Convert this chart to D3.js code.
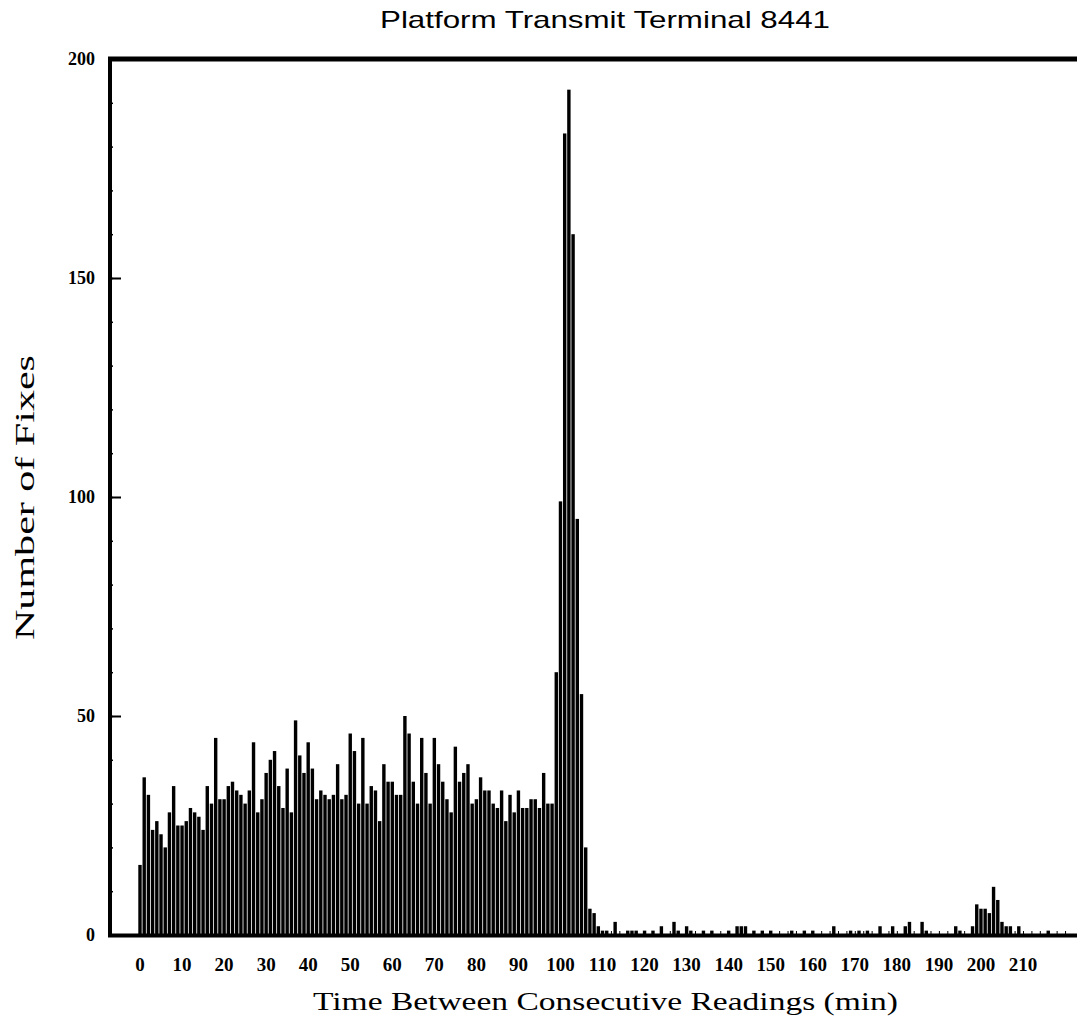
<!DOCTYPE html>
<html>
<head>
<meta charset="utf-8">
<script src="https://cdn.jsdelivr.net/npm/d3@7"></script>
<style>
  html, body { margin: 0; padding: 0; background: #fff; }
  svg { display: block; }
</style>
</head>
<body>
<svg id="chart" width="1077" height="1029"></svg>
<script>
// Number of position fixes per interval between consecutive readings (1-minute bins)
const fixesLowRange = [
  16, 36, 32, 24, 26, 23, 20, 28, 34, 25, 25, 26, 29, 28, 27, 24, 34, 30, 45, 31,
  31, 34, 35, 33, 32, 30, 33, 44, 28, 31, 37, 40, 42, 34, 29, 38, 28, 49, 41, 37,
  44, 38, 31, 33, 32, 31, 32, 39, 31, 32, 46, 42, 30, 45, 30, 34, 33, 26, 39, 35,
  35, 32, 32, 50, 46, 35, 30, 45, 37, 30, 45, 39, 35, 31, 28, 43, 35, 37, 39, 30,
  31, 36, 33, 33, 30, 29, 33, 26, 32, 28, 33, 29, 29, 31, 31, 29, 37, 30, 30
];                                   // minutes 0 – 98
const fixesPeak = [60, 99, 183, 193, 160, 95, 55, 20, 6, 5, 2, 1, 1, 0];   // minutes 99 – 112
const fixesTail = [
  3, 0, 0, 1, 1, 1, 0, 1, 0, 1, 0, 2, 0, 0, 3, 1, 0, 2, 1, 0,   // 113 – 132
  0, 1, 0, 1, 0, 0, 0, 1, 0, 2, 2, 2, 0, 1, 0, 1, 0, 1, 0, 0,   // 133 – 152
  0, 0, 1, 0, 0, 1, 0, 1, 0, 0, 0, 0, 2, 0, 0, 0, 1, 0, 1, 0,   // 153 – 172
  1, 0, 0, 2, 0, 0, 2, 0, 0, 2, 3, 0, 0, 3, 1, 0, 0, 0, 0, 0,   // 173 – 192
  0, 2, 1, 0, 0, 2, 7, 6, 6, 5, 11, 8, 3, 2, 2, 0, 2, 0, 0, 0,  // 193 – 212
  0, 0, 0, 1, 0, 0, 0, 0                                        // 213 – 220
];
const fixes = fixesLowRange.concat(fixesPeak, fixesTail);
const minutes = fixes.map((_, i) => i);

const xTickValues = [0, 10, 20, 30, 40, 50, 60, 70, 80, 90, 100,
                     110, 120, 130, 140, 150, 160, 170, 180, 190, 200, 210];
const yTickValues = [0, 50, 100, 150, 200];
const yMinorTickValues = d3.range(0, 201, 10);

const chartTitle = "Platform Transmit Terminal 8441";
const xTitle = "Time Between Consecutive Readings (min)";
const yTitle = "Number of Fixes";

const svg = d3.select("#chart");
const serif = "'Liberation Serif', 'Times New Roman', serif";
const sans = "'Liberation Sans', Arial, Helvetica, sans-serif";

const x = d3.scaleLinear().domain([0, 210]).range([140, 1023]);
const y = d3.scaleLinear().domain([0, 200]).range([935, 59]);

const frameLeft = 110, frameRight = 1077;
const barW = 3.4;

// bars
svg.append("g")
  .selectAll("rect")
  .data(minutes)
  .join("rect")
  .attr("x", m => x(m) - barW / 2)
  .attr("width", barW)
  .attr("y", m => y(fixes[m]))
  .attr("height", m => y(0) - y(fixes[m]))
  .attr("fill", "#000");

// frame: top rule, left axis, baseline
svg.append("line")
  .attr("x1", frameLeft - 2).attr("x2", frameRight)
  .attr("y1", y(200)).attr("y2", y(200))
  .attr("stroke", "#000").attr("stroke-width", 5);
svg.append("line")
  .attr("x1", frameLeft).attr("x2", frameLeft)
  .attr("y1", y(200) - 2).attr("y2", y(0) + 2)
  .attr("stroke", "#000").attr("stroke-width", 4);
svg.append("line")
  .attr("x1", frameLeft - 2).attr("x2", frameRight)
  .attr("y1", y(0) + 0.5).attr("y2", y(0) + 0.5)
  .attr("stroke", "#000").attr("stroke-width", 4);

// y axis: inward ticks, labels on the outside
const yAxisMajor = d3.axisRight(y).tickValues(yTickValues).tickSize(11).tickFormat("");
const yAxisMinor = d3.axisRight(y).tickValues(yMinorTickValues).tickSize(3).tickFormat("");
svg.append("g").attr("transform", `translate(${frameLeft},0)`).call(yAxisMinor)
  .call(g => g.select(".domain").remove())
  .call(g => g.selectAll("line").attr("stroke", "#000").attr("stroke-width", 1.5));
svg.append("g").attr("transform", `translate(${frameLeft},0)`).call(yAxisMajor)
  .call(g => g.select(".domain").remove())
  .call(g => g.selectAll("line").attr("stroke", "#000").attr("stroke-width", 2));

svg.append("g")
  .selectAll("text")
  .data(yTickValues)
  .join("text")
  .attr("x", 95)
  .attr("y", d => y(d) + 6)
  .attr("text-anchor", "end")
  .attr("font-family", serif)
  .attr("font-weight", "bold")
  .attr("font-size", 18)
  .text(d => d);

// x axis: small ticks along the baseline, labels below
const xAxis = d3.axisTop(x).tickValues(d3.range(0, 221, 2)).tickSize(3).tickFormat("");
svg.append("g").attr("transform", `translate(0,${y(0) - 1})`).call(xAxis)
  .call(g => g.select(".domain").remove())
  .call(g => g.selectAll("line").attr("stroke", "#000").attr("stroke-width", 1));

svg.append("g")
  .selectAll("text")
  .data(xTickValues)
  .join("text")
  .attr("x", d => x(d))
  .attr("y", 971)
  .attr("text-anchor", "middle")
  .attr("font-family", serif)
  .attr("font-weight", "bold")
  .attr("font-size", 19)
  .text(d => d);

// titles (wide-set lettering, fitted to a fixed run length)
svg.append("text")
  .attr("x", 380).attr("y", 28)
  .attr("font-family", sans)
  .attr("font-size", 24)
  .attr("textLength", 450)
  .attr("lengthAdjust", "spacingAndGlyphs")
  .text(chartTitle);

svg.append("text")
  .attr("x", 313).attr("y", 1010)
  .attr("font-family", serif)
  .attr("font-size", 26)
  .attr("textLength", 585)
  .attr("lengthAdjust", "spacingAndGlyphs")
  .text(xTitle);

svg.append("text")
  .attr("transform", `translate(34,640) rotate(-90)`)
  .attr("font-family", serif)
  .attr("font-size", 27)
  .attr("textLength", 285)
  .attr("lengthAdjust", "spacingAndGlyphs")
  .text(yTitle);
</script>
</body>
</html>
